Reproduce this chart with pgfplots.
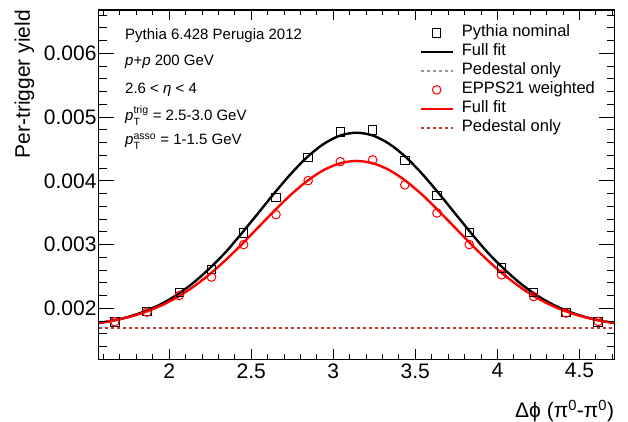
\documentclass[border=0pt]{standalone}
\usepackage{pgfplots}
\pgfplotsset{compat=1.18}
\usepackage{amsmath}
\usepackage{fontspec}
\setmainfont{Liberation Sans}
\usetikzlibrary{calc}
\definecolor{pedred}{RGB}{190,55,55}
\definecolor{pedgray}{RGB}{150,150,150}
\begin{document}
\begin{tikzpicture}
\begin{axis}[
  scale only axis, width=515.6bp, height=349.3bp,
  xmin=1.5708, xmax=4.7124, ymin=0.0012, ymax=0.00668,
  axis line style={line width=1.2bp},
  xtick={2,2.5,3,3.5,4,4.5}, xticklabels={\text{2},\text{2.5},\text{3},\text{3.5},\text{4},\text{4.5}},
  ytick={0.002,0.003,0.004,0.005,0.006}, yticklabels={\text{0.002},\text{0.003},\text{0.004},\text{0.005},\text{0.006}},
  scaled y ticks=false, scaled x ticks=false,
  major tick length=0pt, minor tick length=0pt,
  every tick/.style={line width=0.9bp, black}, tick align=inside, tick pos=both,
  ticklabel style={font=\fontsize{21bp}{25bp}\selectfont},
  xticklabel style={inner sep=0pt, anchor=north, yshift=-4bp},
  yticklabel style={inner sep=0pt, anchor=east, xshift=-2bp},
  legend style={at={(rel axis cs:0.6218,0.9579)}, anchor=north west, draw=none, fill=none,
    inner sep=0pt, font=\fontsize{16.5bp}{19bp}\selectfont, row sep=3bp, column sep=8bp,
    nodes={inner sep=0pt, text height=12bp, text depth=4bp}},
  legend cell align=left,
  legend image code/.code={\draw[mark repeat=2,mark phase=2,#1] plot coordinates {(0bp,0bp) (16bp,0bp) (32bp,0bp)};},
]
\addplot[only marks, mark=square, mark size=4.2bp, mark options={line width=1bp, black}] coordinates {
(1.669,0.001784) (1.865,0.00195) (2.062,0.00225) (2.258,0.00261) (2.454,0.00318) (2.651,0.003743)
(2.847,0.00437) (3.043,0.004766) (3.240,0.004798) (3.436,0.004317) (3.632,0.00377) (3.829,0.003188)
(4.025,0.00263) (4.221,0.002248) (4.418,0.001934) (4.614,0.001784)};
\addlegendentry{Pythia nominal}
\addplot[black, line width=2.4bp, smooth, no marks] coordinates {
(1.5708,0.001770) (1.6416,0.001800) (1.7416,0.001859) (1.8416,0.001942) (1.9416,0.002054)
(2.0416,0.002202) (2.1416,0.002388) (2.2416,0.002615) (2.3416,0.002873) (2.4416,0.003175)
(2.5416,0.003490) (2.6416,0.003808) (2.7416,0.004109) (2.8416,0.004373) (2.9416,0.004579)
(3.0416,0.004710) (3.1416,0.004755) (3.2416,0.004710) (3.3416,0.004579) (3.4416,0.004373)
(3.5416,0.004109) (3.6416,0.003808) (3.7416,0.003490) (3.8416,0.003175) (3.9416,0.002873)
(4.0416,0.002615) (4.1416,0.002388) (4.2416,0.002202) (4.3416,0.002054) (4.4416,0.001942)
(4.5416,0.001859) (4.6416,0.001800) (4.7124,0.001770)};
\addlegendentry{Full fit}
\addplot[pedgray, line width=2bp, dash pattern=on 3.5bp off 2.5bp, no marks] coordinates {(1.5708,0.00169) (4.7124,0.00169)};
\addlegendentry{Pedestal only}
\addplot[only marks, mark=o, mark size=4.3bp, mark options={line width=1bp, red}] coordinates {
(1.669,0.00179) (1.865,0.00194) (2.062,0.00220) (2.258,0.00249) (2.454,0.00300) (2.651,0.00347)
(2.847,0.004003) (3.043,0.004301) (3.240,0.004328) (3.436,0.003936) (3.632,0.003495) (3.829,0.00300)
(4.025,0.002525) (4.221,0.002185) (4.418,0.001925) (4.614,0.001793)};
\addlegendentry{EPPS21 weighted}
\addplot[red, line width=2.4bp, smooth, no marks] coordinates {
(1.5708,0.001770) (1.6416,0.001799) (1.7416,0.001854) (1.8416,0.001930) (1.9416,0.002032)
(2.0416,0.002163) (2.1416,0.002327) (2.2416,0.002524) (2.3416,0.002750) (2.4416,0.003001)
(2.5416,0.003266) (2.6416,0.003531) (2.7416,0.003781) (2.8416,0.003999) (2.9416,0.004168)
(3.0416,0.004275) (3.1416,0.004312) (3.2416,0.004275) (3.3416,0.004168) (3.4416,0.003999)
(3.5416,0.003781) (3.6416,0.003531) (3.7416,0.003266) (3.8416,0.003001) (3.9416,0.002750)
(4.0416,0.002524) (4.1416,0.002327) (4.2416,0.002163) (4.3416,0.002032) (4.4416,0.001930)
(4.5416,0.001854) (4.6416,0.001799) (4.7124,0.001770)};
\addlegendentry{Full fit}
\addplot[pedred, line width=2bp, dash pattern=on 3.5bp off 2.5bp, no marks] coordinates {(1.5708,0.00169) (4.7124,0.00169)};
\addlegendentry{Pedestal only}
\coordinate (LL) at (rel axis cs:0,0);
\coordinate (UR) at (rel axis cs:1,1);
\coordinate (YL) at (rel axis cs:0,1);
\coordinate (XR) at (rel axis cs:1,0);
\coordinate (T1) at (rel axis cs:0.051,0.9161);
\coordinate (T2) at (rel axis cs:0.051,0.8397);
\coordinate (T3) at (rel axis cs:0.051,0.7615);
\coordinate (T4) at (rel axis cs:0.051,0.6831);
\coordinate (T5) at (rel axis cs:0.051,0.6144);
\end{axis}
% axis ticks (ROOT style, inside, on all four sides)
\tikzset{tk/.style={line width=0.9bp, black}}
\foreach \v in {2,2.5,3,3.5,4,4.5}{
  \pgfmathsetmacro\f{(\v-1.5708)/3.1416}
  \draw[tk] ($(LL)!\f!(XR)$) -- ++(0,10.5bp);
  \draw[tk] ($(YL)!\f!(UR)$) -- ++(0,-10.5bp);
}
\foreach \v in {1.6,1.7,1.8,1.9,2.1,2.2,2.3,2.4,2.6,2.7,2.8,2.9,3.1,3.2,3.3,3.4,3.6,3.7,3.8,3.9,4.1,4.2,4.3,4.4,4.6,4.7}{
  \pgfmathsetmacro\f{(\v-1.5708)/3.1416}
  \draw[tk] ($(LL)!\f!(XR)$) -- ++(0,5.2bp);
  \draw[tk] ($(YL)!\f!(UR)$) -- ++(0,-5.2bp);
}
\foreach \w in {2,3,4,5,6}{
  \pgfmathsetmacro\f{(\w-1.2)/5.48}
  \draw[tk] ($(LL)!\f!(YL)$) -- ++(15.5bp,0);
  \draw[tk] ($(XR)!\f!(UR)$) -- ++(-15.5bp,0);
}
\foreach \w in {1.4,1.6,1.8,2.2,2.4,2.6,2.8,3.2,3.4,3.6,3.8,4.2,4.4,4.6,4.8,5.2,5.4,5.6,5.8,6.2,6.4,6.6}{
  \pgfmathsetmacro\f{(\w-1.2)/5.48}
  \draw[tk] ($(LL)!\f!(YL)$) -- ++(7.8bp,0);
  \draw[tk] ($(XR)!\f!(UR)$) -- ++(-7.8bp,0);
}
\begin{scope}[font=\fontsize{15bp}{18bp}\selectfont]
\node[anchor=base west, inner sep=0pt] at (T1) {Pythia 6.428 Perugia 2012};
\node[anchor=base west, inner sep=0pt] at (T2) {\textit{p}+\textit{p} 200 GeV};
\node[anchor=base west, inner sep=0pt] at (T3) {2.6 < \textit{η} < 4};
\node[anchor=base west, inner sep=0pt] at (T4) {\textit{p}$^{\text{trig}}_{\text{T}}$ = 2.5-3.0 GeV};
\node[anchor=base west, inner sep=0pt] at (T5) {\textit{p}$^{\text{asso}}_{\text{T}}$ = 1-1.5 GeV};
\end{scope}
\node[xshift=-68.7bp, rotate=90, anchor=base east, inner sep=0pt, font=\fontsize{21bp}{25bp}\selectfont] at (YL) {Per-trigger yield};
\node[yshift=-58.5bp, anchor=base east, inner sep=0pt, font=\fontsize{21bp}{25bp}\selectfont] at (XR) {Δϕ (π\textsuperscript{0}-π\textsuperscript{0})};
\pgfresetboundingbox
\path[use as bounding box] ($(LL)+(-98.7bp,-62.7bp)$) rectangle ($(UR)+(13.7bp,10bp)$);
\end{tikzpicture}
\end{document}
